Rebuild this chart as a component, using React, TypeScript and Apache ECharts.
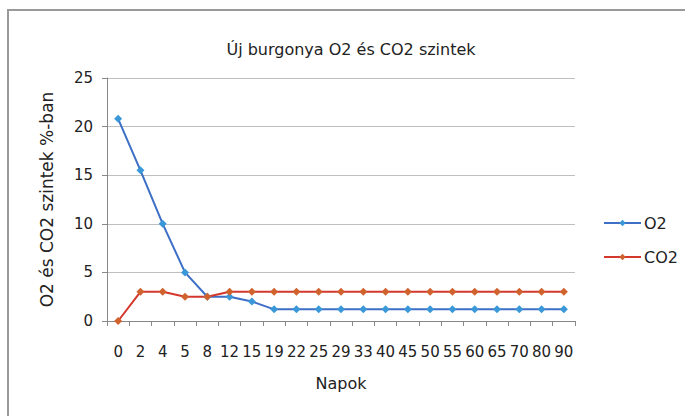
import React, { useEffect, useRef } from "react";
import * as echarts from "echarts";

const categories = ["0", "2", "4", "5", "8", "12", "15", "19", "22", "25", "29", "33", "40", "45", "50", "55", "60", "65", "70", "80", "90"];
const o2Values = [20.8, 15.5, 10, 5, 2.5, 2.5, 2, 1.2, 1.2, 1.2, 1.2, 1.2, 1.2, 1.2, 1.2, 1.2, 1.2, 1.2, 1.2, 1.2, 1.2];
const co2Values = [0, 3, 3, 2.5, 2.5, 3, 3, 3, 3, 3, 3, 3, 3, 3, 3, 3, 3, 3, 3, 3, 3];
const titleText = "Új burgonya O2 és CO2 szintek";
const xAxisName = "Napok";
const yAxisName = "O2 és CO2 szintek %-ban";

const FONT = "'DejaVu Sans', sans-serif";

export default function App() {
  const ref = useRef<HTMLDivElement>(null);
  useEffect(() => {
    if (!ref.current) return;
    const chart = echarts.init(ref.current, null, { renderer: "svg" });
    chart.setOption({
      animation: false,
      backgroundColor: "#ffffff",
      title: {
        text: titleText,
        left: 346,
        textAlign: "center",
        top: 36,
        textStyle: { fontFamily: FONT, fontSize: 16, fontWeight: "normal", color: "#222" },
      },
      graphic: [
        {
          type: "rect",
          shape: { x: 8, y: 10, width: 700, height: 420 },
          style: { fill: "none", stroke: "#9a9a9a", lineWidth: 2 },
          silent: true,
        },
      ],
      legend: {
        orient: "vertical",
        left: 603,
        top: 215,
        padding: 0,
        itemGap: 18,
        itemWidth: 37,
        itemHeight: 8,
        textStyle: { fontFamily: FONT, fontSize: 16, color: "#222", padding: [0, 0, 0, -2] },
        data: ["O2", "CO2"],
      },
      grid: { left: 107, right: 110, top: 78, bottom: 95 },
      xAxis: {
        type: "category",
        data: categories,
        boundaryGap: true,
        name: xAxisName,
        nameLocation: "middle",
        nameGap: 54,
        nameTextStyle: { fontFamily: FONT, fontSize: 16, color: "#222" },
        axisLine: { lineStyle: { color: "#888", width: 1 } },
        axisTick: { show: true, alignWithLabel: false, length: 5, lineStyle: { color: "#888" } },
        axisLabel: { fontFamily: FONT, fontSize: 15, color: "#222", margin: 23, interval: 0 },
        splitLine: { show: false },
      },
      yAxis: {
        type: "value",
        min: 0,
        max: 25,
        interval: 5,
        name: yAxisName,
        nameLocation: "middle",
        nameGap: 52,
        nameTextStyle: { fontFamily: FONT, fontSize: 17, color: "#222" },
        axisLine: { show: true, lineStyle: { color: "#888", width: 1 } },
        axisTick: { show: true, length: 5, lineStyle: { color: "#888" } },
        axisLabel: { fontFamily: FONT, fontSize: 15, color: "#222", margin: 14 },
        splitLine: { show: true, lineStyle: { color: "#bfbfbf", width: 1 } },
      },
      series: [
        {
          name: "O2",
          type: "line",
          data: o2Values,
          symbol: "diamond",
          symbolSize: 8,
          lineStyle: { color: "#3d6fc6", width: 2 },
          itemStyle: { color: "#3a98d8" },
        },
        {
          name: "CO2",
          type: "line",
          data: co2Values,
          symbol: "diamond",
          symbolSize: 8,
          lineStyle: { color: "#d4382c", width: 2 },
          itemStyle: { color: "#d0622e" },
        },
      ],
    });
    return () => chart.dispose();
  }, []);
  return <div ref={ref} style={{ position: "fixed", left: 0, top: 0, width: 685, height: 416 }} />;
}
